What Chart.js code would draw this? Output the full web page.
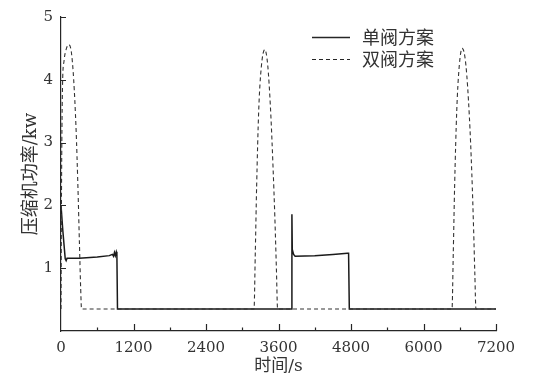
<!DOCTYPE html>
<html>
<head>
<meta charset="utf-8">
<script src="https://cdn.jsdelivr.net/npm/chart.js@4.4.1/dist/chart.umd.min.js"></script>
<style>
  html, body { margin: 0; padding: 0; background: #fff; }
  #wrap { width: 536px; height: 383px; }
</style>
</head>
<body>
<div id="wrap"><canvas id="chart"></canvas></div>
<script>
"use strict";

// series (time in s, power in kW)
var seriesNames = ["单阀方案", "双阀方案"];

var timeSingle  = [0, 30, 70, 85, 100, 300, 600, 800, 850, 870, 885, 900, 915, 925, 935, 3815, 3822, 3828, 3850, 3875, 4200, 4500, 4740, 4760, 4772, 7200];
var powerSingle = [2.0, 1.6, 1.15, 1.12, 1.16, 1.16, 1.18, 1.2, 1.22, 1.19, 1.25, 1.2, 1.26, 1.22, 0.35, 0.35, 1.86, 1.3, 1.22, 1.19, 1.2, 1.22, 1.24, 1.24, 0.35, 0.35];

var timeDouble  = [0, 10, 25, 50, 90, 130, 170, 210, 250, 280, 305, 325, 340,
                   3195, 3215, 3238, 3272, 3315, 3372, 3420, 3470, 3510, 3540, 3565, 3585,
                   6472, 6492, 6515, 6550, 6590, 6640, 6700, 6760, 6800, 6830, 6850, 6868, 7200];
var powerDouble = [0.35, 2.5, 3.9, 4.3, 4.5, 4.56, 4.45, 4.0, 3.2, 2.3, 1.4, 0.7, 0.35,
                   0.35, 1.2, 2.3, 3.5, 4.2, 4.48, 4.25, 3.5, 2.6, 1.8, 1.0, 0.35,
                   0.35, 1.2, 2.3, 3.5, 4.2, 4.5, 4.25, 3.4, 2.5, 1.6, 0.9, 0.35, 0.35];

var xMin = 0, xMax = 7200, xStep = 600, xLabelStep = 1200;
var yMin = 0, yMax = 5, yStep = 1;

var xTitle = "时间/s";
var yTitle = "压缩机功率/kw";

var inkColor = "#262626";
var serifFont = "'DejaVu Serif', 'Noto Sans CJK SC', serif";

function toPoints(xs, ys) {
	var pts = [];
	for (var i = 0; i < xs.length; i++) {
		pts.push({ x: xs[i], y: ys[i] });
	}
	return pts;
}

// inward tick marks on the left and bottom axes
var inwardTicks = {
	id: "inwardTicks",
	afterDatasetsDraw: function(chart) {
		var ctx = chart.ctx;
		var xs = chart.scales.x, ys = chart.scales.y;
		var area = chart.chartArea;
		ctx.save();
		ctx.strokeStyle = inkColor;
		ctx.lineWidth = 1.2;
		ctx.beginPath();
		xs.ticks.forEach(function(t) {
			var px = Math.round(xs.getPixelForValue(t.value)) + 0.5;
			var len = (t.value % xLabelStep === 0) ? 7 : 3.5;
			if (t.value === xMin) return;
			ctx.moveTo(px, area.bottom);
			ctx.lineTo(px, area.bottom - len);
		});
		ys.ticks.forEach(function(t) {
			var py = Math.round(ys.getPixelForValue(t.value)) + 0.5;
			if (t.value === yMin) return;
			ctx.moveTo(area.left, py);
			ctx.lineTo(area.left + 5, py);
		});
		ctx.stroke();
		ctx.restore();
	}
};

// legend drawn in the upper middle of the plot, as in the figure
var lineLegend = {
	id: "lineLegend",
	afterDraw: function(chart) {
		var ctx = chart.ctx;
		var rows = [
			{ label: seriesNames[0], y: 37, dash: [] , width: 1.4 },
			{ label: seriesNames[1], y: 59, dash: [4, 3], width: 1.1 }
		];
		ctx.save();
		rows.forEach(function(r) {
			ctx.strokeStyle = inkColor;
			ctx.lineWidth = r.width;
			ctx.setLineDash(r.dash);
			ctx.beginPath();
			ctx.moveTo(312, r.y + 0.5);
			ctx.lineTo(350, r.y + 0.5);
			ctx.stroke();
			ctx.setLineDash([]);
			ctx.fillStyle = "#333";
			ctx.font = "18px 'Noto Sans CJK SC'";
			ctx.textBaseline = "middle";
			ctx.textAlign = "left";
			ctx.fillText(r.label, 362, r.y);
		});
		ctx.restore();
	}
};

var ctx = document.getElementById("chart").getContext("2d");
var powerChart = new Chart(ctx, {
	type: "line",
	data: {
		datasets: [{
			label: seriesNames[1],
			data: toPoints(timeDouble, powerDouble),
			borderColor: "#333",
			borderWidth: 1.1,
			borderDash: [4, 3],
			pointRadius: 0,
			cubicInterpolationMode: "monotone",
			fill: false
		}, {
			label: seriesNames[0],
			data: toPoints(timeSingle, powerSingle),
			borderColor: "#1a1a1a",
			borderWidth: 1.5,
			pointRadius: 0,
			tension: 0,
			fill: false
		}]
	},
	options: {
		responsive: true,
		maintainAspectRatio: false,
		animation: false,
		layout: { padding: { left: 21, right: 40, top: 11, bottom: 6 } },
		plugins: {
			legend: { display: false },
			tooltip: { enabled: false }
		},
		scales: {
			x: {
				type: "linear",
				min: xMin,
				max: xMax,
				grid: { display: false, drawTicks: false },
				border: { display: true, color: inkColor, width: 1.2 },
				ticks: {
					stepSize: xStep,
					autoSkip: false,
					maxRotation: 0,
					padding: 8,
					color: "#333",
					font: { family: serifFont, size: 15 },
					callback: function(v) { return (v % xLabelStep === 0) ? String(v) : ""; }
				},
				title: {
					display: true,
					text: xTitle,
					color: "#333",
					padding: 0,
					font: { family: serifFont, size: 17 }
				},
				afterFit: function(scale) { scale.height = 46; }
			},
			y: {
				min: yMin,
				max: yMax,
				grid: { display: false, drawTicks: false },
				border: { display: true, color: inkColor, width: 1.2 },
				ticks: {
					stepSize: yStep,
					padding: 8,
					color: "#333",
					font: { family: serifFont, size: 15 },
					callback: function(v) { return v === 0 ? "" : String(v); }
				},
				title: {
					display: true,
					text: yTitle,
					color: "#333",
					padding: 0,
					font: { family: serifFont, size: 18 }
				},
				afterFit: function(scale) { scale.width = 40; }
			}
		}
	},
	plugins: [inwardTicks, lineLegend]
});
</script>
</body>
</html>
